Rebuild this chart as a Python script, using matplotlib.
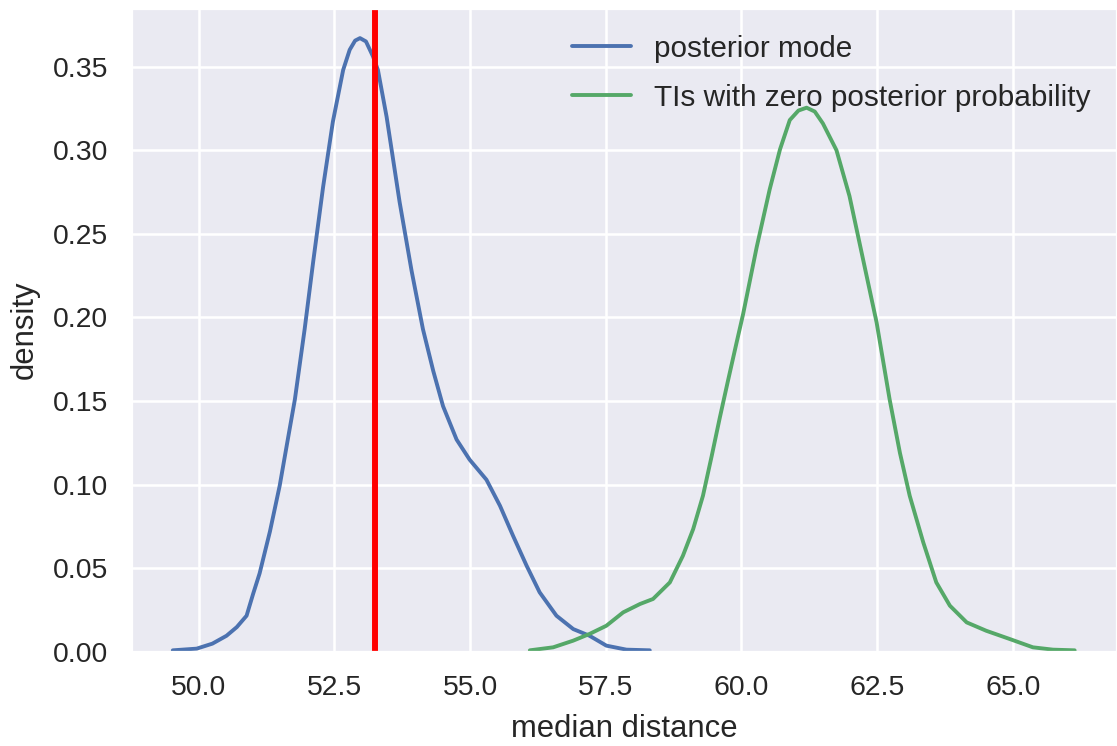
import matplotlib
matplotlib.use("Agg")
import matplotlib.pyplot as plt
import seaborn as sns

# Data (KDE curves)
mode_x = [49.52, 49.96, 50.25, 50.51, 50.70, 50.88, 51.00, 51.12, 51.31, 51.49,
          51.65, 51.77, 51.95, 52.11, 52.29, 52.47, 52.66, 52.78, 52.88, 52.97,
          53.08, 53.21, 53.30, 53.46, 53.70, 53.92, 54.13, 54.32, 54.50, 54.75,
          54.99, 55.30, 55.55, 55.79, 56.04, 56.28, 56.59, 56.90, 57.20, 57.51,
          57.88, 58.31]
mode_y = [0.001, 0.002, 0.005, 0.0097, 0.0149, 0.0217, 0.0347, 0.047, 0.072, 0.0994,
          0.129, 0.151, 0.193, 0.234, 0.278, 0.317, 0.348, 0.360, 0.3655, 0.367,
          0.365, 0.356, 0.348, 0.320, 0.269, 0.228, 0.193, 0.168, 0.147, 0.127,
          0.115, 0.103, 0.0874, 0.0695, 0.0516, 0.0357, 0.0217, 0.0137, 0.0097, 0.0038,
          0.0014, 0.001]

zero_x = [56.10, 56.53, 56.90, 57.20, 57.51, 57.82, 58.13, 58.37, 58.68, 58.92,
          59.11, 59.29, 59.45, 59.60, 59.75, 59.91, 60.03, 60.28, 60.52, 60.71,
          60.89, 61.05, 61.20, 61.35, 61.50, 61.75, 61.99, 62.24, 62.49, 62.73,
          62.92, 63.10, 63.35, 63.59, 63.84, 64.15, 64.51, 64.94, 65.37, 65.74,
          66.14]
zero_y = [0.001, 0.0028, 0.0068, 0.0108, 0.0157, 0.0237, 0.0287, 0.0317, 0.0416, 0.0575,
          0.0735, 0.0934, 0.117, 0.140, 0.162, 0.185, 0.202, 0.242, 0.2766, 0.3005,
          0.318, 0.3237, 0.3254, 0.3231, 0.316, 0.300, 0.2726, 0.2348, 0.197, 0.151,
          0.119, 0.0934, 0.0655, 0.0416, 0.0277, 0.0177, 0.0127, 0.0078, 0.0028, 0.0014,
          0.001]

vline_x = 53.25
labels = ["posterior mode", "TIs with zero posterior probability"]
xticks = [50.0, 52.5, 55.0, 57.5, 60.0, 62.5, 65.0]
yticks = [0.00, 0.05, 0.10, 0.15, 0.20, 0.25, 0.30, 0.35]

sns.set_theme(style="darkgrid")
plt.rcParams['font.family'] = ['Liberation Sans', 'DejaVu Sans']
plt.rcParams['text.color'] = '.15'
plt.rcParams['axes.labelcolor'] = '.15'
plt.rcParams['xtick.color'] = '.15'
plt.rcParams['ytick.color'] = '.15'

W, H, DPI = 1117, 746, 186
fig = plt.figure(figsize=(W / DPI, H / DPI), dpi=DPI)
ax = fig.add_axes([131 / W, 94 / H, (W - 131) / W, (652 - 8) / H])

ax.plot(mode_x, mode_y, color="#4C72B0", lw=1.5, label=labels[0],
        solid_joinstyle="round", solid_capstyle="round")
ax.plot(zero_x, zero_y, color="#55A868", lw=1.5, label=labels[1],
        solid_joinstyle="round", solid_capstyle="round")
ax.axvline(vline_x, color="red", lw=2.3)

ax.set_xlim(48.75, 66.92)
ax.set_ylim(0, 0.385)
ax.set_xticks(xticks)
ax.set_xticklabels([f"{v:.1f}" for v in xticks])
ax.set_yticks(yticks)
ax.set_yticklabels([f"{v:.2f}" for v in yticks])
ax.tick_params(axis='both', labelsize=11, length=0, pad=9)
ax.set_xlabel("median distance", fontsize=12, labelpad=5)
ax.set_ylabel("density", fontsize=12, labelpad=5)
ax.grid(True, color="white", lw=1.0)
leg = ax.legend(loc="upper right", fontsize=11.5, frameon=False,
                labelspacing=0.7, handletextpad=0.75)

fig.savefig("out.png", dpi=DPI)
